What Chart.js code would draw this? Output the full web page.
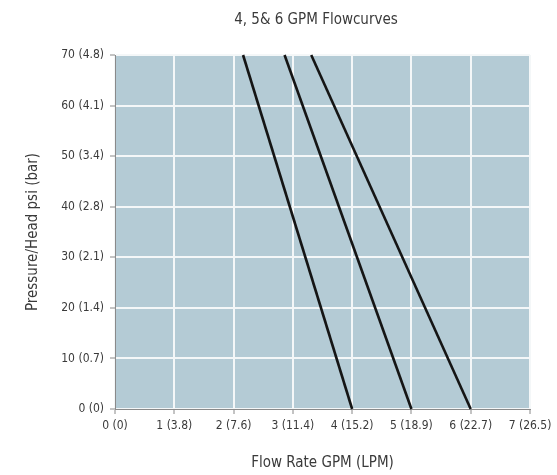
<!DOCTYPE html>
<html>
<head>
<meta charset="utf-8">
<script src="https://cdn.jsdelivr.net/npm/chart.js@4.4.1/dist/chart.umd.min.js"></script>
<style>
  html, body { margin: 0; padding: 0; background: #fff; }
  canvas { display: block; }
</style>
</head>
<body>
<canvas id="chart" width="557" height="475"></canvas>
<script>
// pressure end points (psi) shared by all three curves
const pressurePsi = [0, 70]

// flow (GPM) at 0 psi and at 70 psi
const flow4gpm = [4.0, 2.16]
const flow5gpm = [5.0, 2.86]
const flow6gpm = [6.0, 3.31]

const xTickLabels = ['0 (0)', '1 (3.8)', '2 (7.6)', '3 (11.4)', '4 (15.2)', '5 (18.9)', '6 (22.7)', '7 (26.5)']
const yTickLabels = ['0 (0)', '10 (0.7)', '20 (1.4)', '30 (2.1)', '40 (2.8)', '50 (3.4)', '60 (4.1)', '70 (4.8)']
const chartTitle = '4, 5& 6 GPM Flowcurves'

const FONT = "'DejaVu Sans Condensed', 'Liberation Sans Narrow', 'Roboto', sans-serif"
const INK = '#3a3a3a'

const toPoints = flows => flows.map((f, i) => ({ x: f, y: pressurePsi[i] }))

const curve = (label, flows) => ({
  label: label,
  data: toPoints(flows),
  borderColor: '#151515',
  borderWidth: 2.6,
  pointRadius: 0,
  fill: false,
  tension: 0,
  clip: false
})

const plotBackground = {
  id: 'plotBackground',
  beforeDraw(chart) {
    const { ctx, chartArea: a } = chart
    ctx.save()
    ctx.fillStyle = '#b4cbd5'
    ctx.fillRect(a.left, a.top, a.right - a.left, a.bottom - a.top)
    ctx.restore()
  }
}

// title sits a little left of the plot centre in the original
const headline = {
  id: 'headline',
  afterDraw(chart) {
    const { ctx } = chart
    ctx.save()
    ctx.fillStyle = INK
    ctx.font = '15px ' + FONT
    ctx.textAlign = 'center'
    ctx.textBaseline = 'middle'
    ctx.fillText(chartTitle, 316, 20)
    ctx.restore()
  }
}

new Chart(document.getElementById('chart'), {
  type: 'line',
  data: {
    datasets: [
      curve('4 GPM', flow4gpm),
      curve('5 GPM', flow5gpm),
      curve('6 GPM', flow6gpm)
    ]
  },
  options: {
    responsive: false,
    animation: false,
    devicePixelRatio: 1,
    layout: { padding: { left: 0, right: 27, top: 55, bottom: 0 } },
    plugins: {
      legend: { display: false },
      tooltip: { enabled: false },
      title: { display: false }
    },
    scales: {
      x: {
        type: 'linear',
        min: 0,
        max: 7,
        afterFit(scale) { scale.height = 66 },
        ticks: {
          stepSize: 1,
          color: INK,
          font: { family: FONT, size: 12 },
          padding: 5,
          maxRotation: 0,
          callback: v => xTickLabels[v]
        },
        grid: { color: '#f4f7f8', lineWidth: 2, tickColor: '#888', tickWidth: 1, tickLength: 5 },
        border: { color: '#8a8a8a', width: 1 },
        title: {
          display: true,
          text: 'Flow Rate GPM (LPM)',
          color: INK,
          font: { family: FONT, size: 15 },
          padding: { top: 0, bottom: 3 }
        }
      },
      y: {
        type: 'linear',
        min: 0,
        max: 70,
        afterFit(scale) { scale.width = 115 },
        ticks: {
          stepSize: 10,
          color: INK,
          font: { family: FONT, size: 12 },
          padding: 6,
          callback: v => yTickLabels[v / 10]
        },
        grid: { color: '#f4f7f8', lineWidth: 2, tickColor: '#888', tickWidth: 1, tickLength: 5 },
        border: { color: '#8a8a8a', width: 1 },
        title: {
          display: true,
          text: 'Pressure/Head psi (bar)',
          color: INK,
          font: { family: FONT, size: 15 },
          padding: { top: 24, bottom: 0 }
        }
      }
    }
  },
  plugins: [plotBackground, headline]
})
</script>
</body>
</html>
